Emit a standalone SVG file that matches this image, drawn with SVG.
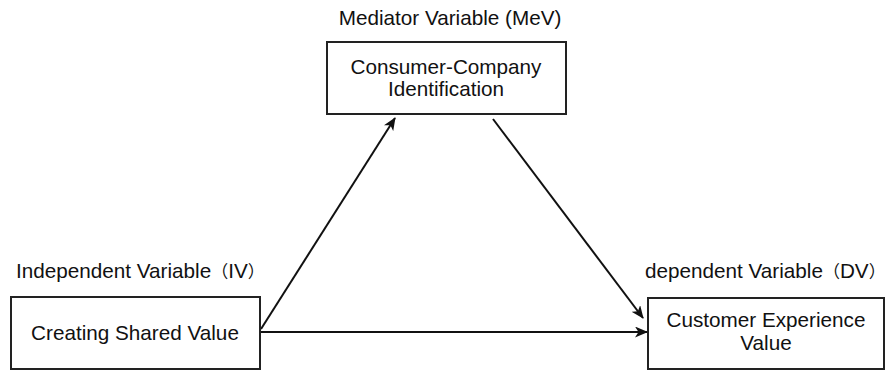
<svg xmlns="http://www.w3.org/2000/svg" width="885" height="370" viewBox="0 0 885 370">
<style>
.box{fill:#fff;stroke:#222;stroke-width:2}
.t{font-family:"Liberation Sans",Arial,"Noto Sans CJK SC",sans-serif;font-size:20.7px;fill:#111}
.p{font-family:"Noto Sans CJK SC",sans-serif;font-size:17px}
.q{font-family:"Noto Sans CJK SC",sans-serif;font-size:17px;letter-spacing:-4px}
.c{text-anchor:middle}
.edge{stroke:#111;stroke-width:2;fill:none;marker-end:url(#ah)}
</style>
<defs>
<marker id="ah" viewBox="0 0 13 11" refX="12" refY="5.5" markerWidth="13" markerHeight="11" markerUnits="userSpaceOnUse" orient="auto">
<path d="M0,0 L13,5.5 L0,11 L3.5,5.5 Z" fill="#111"/>
</marker>
</defs>
<rect width="885" height="370" fill="#fff"/>
<g id="connectors">
<line class="edge" x1="261" y1="329" x2="395" y2="118"/>
<line class="edge" x1="493" y1="119" x2="643" y2="318"/>
<line class="edge" x1="261" y1="332" x2="647" y2="332"/>
</g>
<g id="mediator">
<text class="t c" x="450" y="25">Mediator Variable (MeV)</text>
<rect class="box" x="327" y="42" width="239" height="72"/>
<text class="t c" x="446" y="74">Consumer-Company</text>
<text class="t c" x="446" y="96">Identification</text>
</g>
<g id="independent">
<text class="t" x="16" y="278">Independent Variable<tspan class="p">（</tspan>IV<tspan class="q">）</tspan></text>
<rect class="box" x="11" y="297" width="249" height="72"/>
<text class="t c" x="135" y="340">Creating Shared Value</text>
</g>
<g id="dependent">
<text class="t" x="645" y="278">dependent Variable<tspan class="p">（</tspan>DV<tspan class="q">）</tspan></text>
<rect class="box" x="648" y="298" width="236" height="71"/>
<text class="t c" x="766" y="327">Customer Experience</text>
<text class="t c" x="766" y="350">Value</text>
</g>
</svg>
